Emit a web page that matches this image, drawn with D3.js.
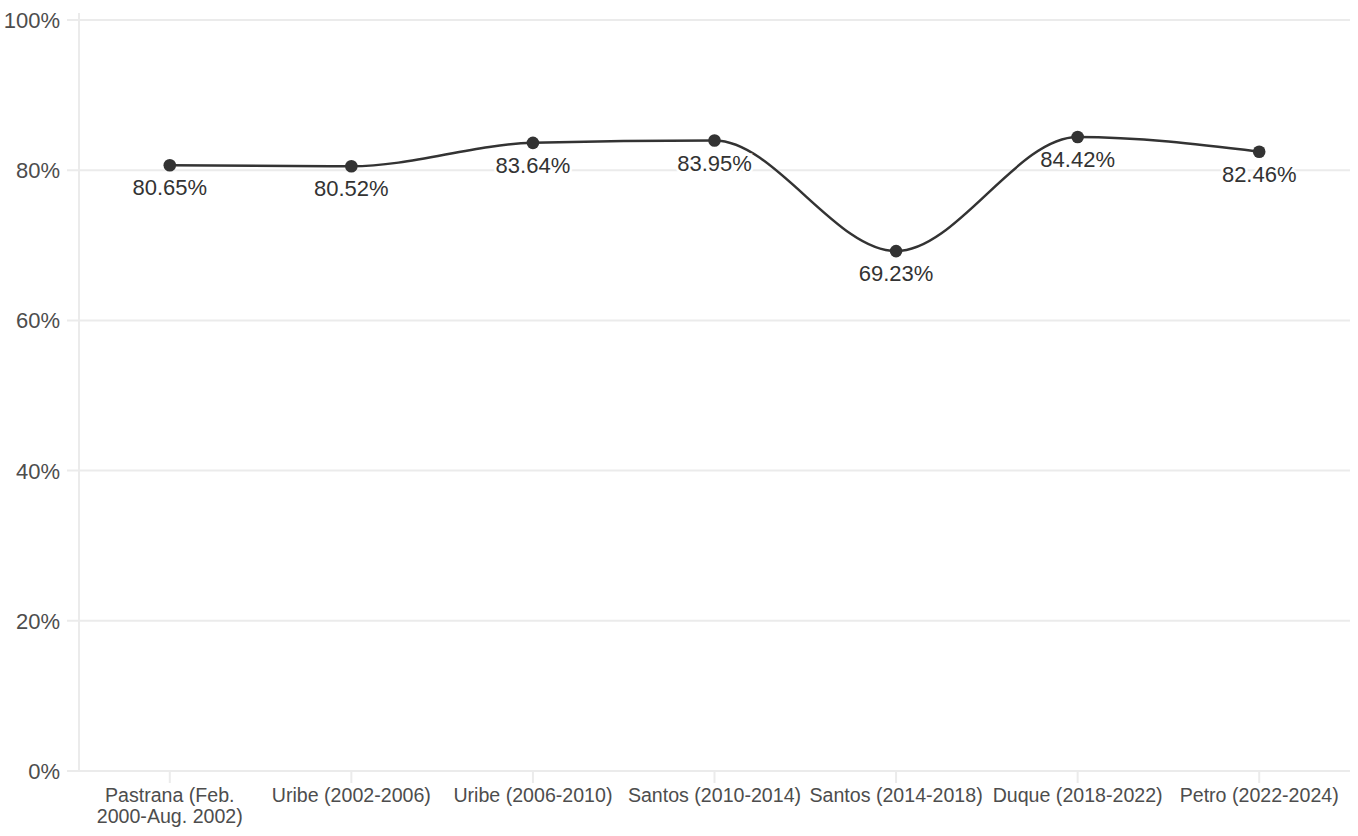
<!DOCTYPE html>
<html><head><meta charset="utf-8">
<script src="https://cdn.jsdelivr.net/npm/d3@7"></script>
<style>body{margin:0;background:#fff}svg{display:block;font-family:"Liberation Sans",Arial,sans-serif}</style>
</head><body><svg id="c" width="1358" height="836"></svg>
<script>
const categories = ["Pastrana (Feb.\n2000-Aug. 2002)","Uribe (2002-2006)","Uribe (2006-2010)","Santos (2010-2014)","Santos (2014-2018)","Duque (2018-2022)","Petro (2022-2024)"];
const values = [80.65, 80.52, 83.64, 83.95, 69.23, 84.42, 82.46];
const yTicks = [0, 20, 40, 60, 80, 100];

const svg = d3.select("#c");
const x = d3.scaleBand().domain(categories).range([79, 1350]).paddingInner(0).paddingOuter(0);
const y = d3.scaleLinear().domain([0, 100]).range([771, 20]);
const cx = c => x(c) + x.bandwidth()/2;
const grid = "#ebebeb";

// horizontal gridlines + y ticks
const gy = svg.append("g");
gy.selectAll("line").data(yTicks).join("line")
  .attr("x1", 67).attr("x2", 1350)
  .attr("y1", d => y(d)).attr("y2", d => y(d))
  .attr("stroke", grid).attr("stroke-width", 2);
gy.selectAll("text").data(yTicks).join("text")
  .attr("x", 60).attr("y", d => y(d)).attr("dy", "0.36em")
  .attr("text-anchor", "end").attr("font-size", 22).attr("fill", "#4d4d4d")
  .text(d => d + "%");
// y axis line
svg.append("line").attr("x1", 79).attr("x2", 79).attr("y1", 13).attr("y2", 771)
  .attr("stroke", grid).attr("stroke-width", 2);

// x ticks and labels
const gx = svg.append("g");
gx.selectAll("line").data(categories).join("line")
  .attr("x1", d => cx(d)).attr("x2", d => cx(d)).attr("y1", 771).attr("y2", 783)
  .attr("stroke", grid).attr("stroke-width", 2);
gx.selectAll("text").data(categories).join("text")
  .attr("x", d => cx(d)).attr("y", 802)
  .attr("text-anchor", "middle").attr("font-size", 19.6).attr("fill", "#4d4d4d")
  .each(function(d){
    const t = d3.select(this);
    d.split("\n").forEach((s,i) => t.append("tspan").attr("x", cx(d)).attr("dy", i ? 21 : 0).text(s));
  });

// line
const pts = categories.map((c,i) => ({c, v: values[i]}));
svg.append("path").datum(pts)
  .attr("d", d3.line().x(d => cx(d.c)).y(d => y(d.v)).curve(d3.curveMonotoneX))
  .attr("fill", "none").attr("stroke", "#333").attr("stroke-width", 2.5);
svg.append("g").selectAll("circle").data(pts).join("circle")
  .attr("cx", d => cx(d.c)).attr("cy", d => y(d.v)).attr("r", 6.3).attr("fill", "#333");
svg.append("g").selectAll("text").data(pts).join("text")
  .attr("x", d => cx(d.c)).attr("y", d => y(d.v) + 30)
  .attr("text-anchor", "middle").attr("font-size", 22).attr("fill", "#333")
  .attr("stroke", "#fff").attr("stroke-width", 5).attr("paint-order", "stroke")
  .text(d => d.v.toFixed(2) + "%");
</script></body></html>
